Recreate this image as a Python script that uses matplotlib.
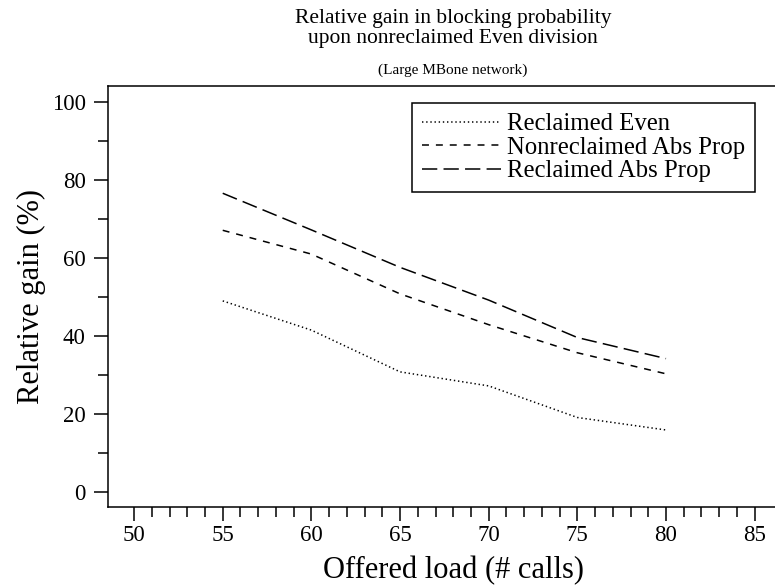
import matplotlib
matplotlib.use("Agg")
import matplotlib.pyplot as plt
from matplotlib.ticker import FixedLocator

plt.rcParams['font.family'] = ['Liberation Serif', 'DejaVu Serif']
plt.rcParams['lines.scale_dashes'] = False

# offered load (# calls)
load = [55, 60, 65, 70, 75, 80]
# relative gain (%) per scheme
reclaimed_even = [49.0, 41.5, 30.8, 27.2, 19.1, 15.9]
nonreclaimed_abs_prop = [67.1, 61.0, 50.8, 42.9, 35.7, 30.3]
reclaimed_abs_prop = [76.6, 67.2, 57.6, 49.2, 39.6, 34.2]

labels = ['Reclaimed Even', 'Nonreclaimed Abs Prop', 'Reclaimed Abs Prop']

fig = plt.figure(figsize=(7.75, 5.86), dpi=100)
ax = fig.add_axes([108/775, 1 - 507/586, (799 - 108)/775, (507 - 86)/586])

lw = 1.1
ax.plot(load, reclaimed_even, color='black', lw=lw, linestyle=(0, (1.0, 2.0)), label=labels[0])
ax.plot(load, nonreclaimed_abs_prop, color='black', lw=lw, linestyle=(0, (5.0, 5.0)), label=labels[1])
ax.plot(load, reclaimed_abs_prop, color='black', lw=lw, linestyle=(0, (11.0, 4.5)), label=labels[2])

ax.set_xlim(48.53, 87.5)
ax.set_ylim(-3.85, 104.1)

ax.set_xticks(range(50, 90, 5))
ax.xaxis.set_minor_locator(FixedLocator(range(50, 86)))
ax.set_yticks(range(0, 101, 20))
ax.yaxis.set_minor_locator(FixedLocator(range(10, 100, 20)))

ax.tick_params(axis='both', which='major', direction='out', length=10, width=1.1,
               labelsize=16.5, color='black')
ax.tick_params(axis='x', which='major', pad=3)
ax.tick_params(axis='y', which='major', pad=6)
ax.tick_params(axis='x', which='minor', direction='out', length=7, width=1.1)
ax.tick_params(axis='y', which='minor', direction='out', length=7, width=1.1)

for s in ax.spines.values():
    s.set_linewidth(1.1)

ax.set_xlabel('Offered load (# calls)', fontsize=22, labelpad=7)
ax.set_ylabel('Relative gain (%)', fontsize=22, labelpad=4)

fig.text(453/775, 1 - 9/586, 'Relative gain in blocking probability\nupon nonreclaimed Even division',
         ha='center', va='top', fontsize=15.5, linespacing=1.05)
fig.text(453/775, 1 - 70/586, '(Large MBone network)', ha='center', va='center', fontsize=11)

leg = ax.legend(loc='upper right', bbox_to_anchor=(755/775, 1 - 103/586),
                bbox_transform=fig.transFigure, fontsize=17.8, handlelength=3.2,
                handletextpad=0.25, labelspacing=0.05, borderpad=0.4, borderaxespad=0,
                fancybox=False, frameon=True, edgecolor='black', framealpha=1)
leg.get_frame().set_linewidth(1.1)

fig.savefig('out.png', dpi=100)
